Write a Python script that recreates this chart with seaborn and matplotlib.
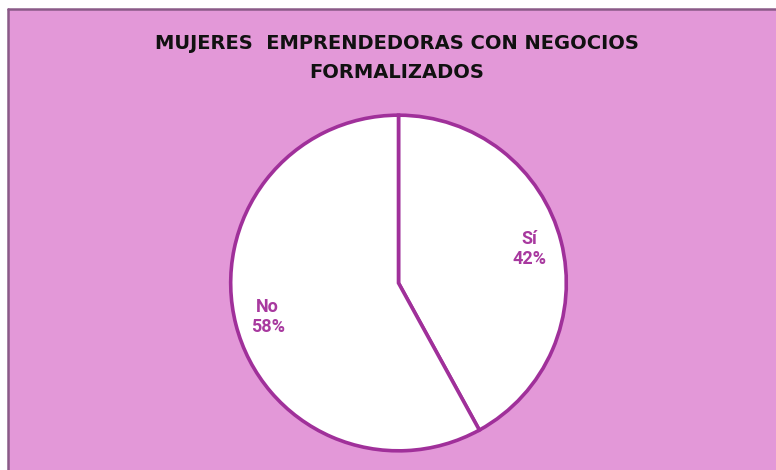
import matplotlib
matplotlib.use("Agg")
import matplotlib.pyplot as plt
import seaborn as sns
from matplotlib.patches import Rectangle
from matplotlib.lines import Line2D

categories = ["Sí", "No"]
values = [42, 58]
title = "MUJERES  EMPRENDEDORAS CON NEGOCIOS\nFORMALIZADOS"

sns.set_theme(style="white")
plt.rcParams['font.family'] = ['DejaVu Sans']

W, H = 776, 470
fig = plt.figure(figsize=(W / 100, H / 100), dpi=100)
fig.patch.set_facecolor("white")

bg = "#E398D8"
x0 = 8 / W
y1 = (H - 9) / H
fig.add_artist(Rectangle((x0, 0), 1 - x0, y1, transform=fig.transFigure,
                         facecolor=bg, edgecolor="none", zorder=0))
fig.add_artist(Line2D([x0, x0], [0, y1], transform=fig.transFigure,
                      color="#8A5A88", lw=1.8, zorder=1))
fig.add_artist(Line2D([x0, 1], [y1, y1], transform=fig.transFigure,
                      color="#8A5A88", lw=1.8, zorder=1))

r = 169.5
cx, cy = 398.5, 283
ax = fig.add_axes([(cx - r) / W, (H - cy - r) / H, 2 * r / W, 2 * r / H])
ax.set_facecolor("none")

labels = [f"{c}\n{v}%" for c, v in zip(categories, values)]
edge = "#A0309A"
wedges, texts = ax.pie(values, labels=labels, startangle=90, counterclock=False,
                       colors=["white", "white"], labeldistance=0.805,
                       wedgeprops=dict(edgecolor=edge, linewidth=2.6),
                       textprops=dict(color="#A8399F", fontsize=13,
                                      fontweight="bold", ha="center", va="center",
                                      linespacing=1.15, family=["Roboto", "DejaVu Sans"]))
ax.set_xlim(-1.01, 1.01)
ax.set_ylim(-1.01, 1.01)
ax.set_aspect("equal")
ax.axis("off")

fig.text(397 / W, 1 - 58 / H, title, ha="center", va="center",
         fontsize=14, fontweight="bold", color="#111111", linespacing=1.7)

fig.savefig("out.png", dpi=100)
